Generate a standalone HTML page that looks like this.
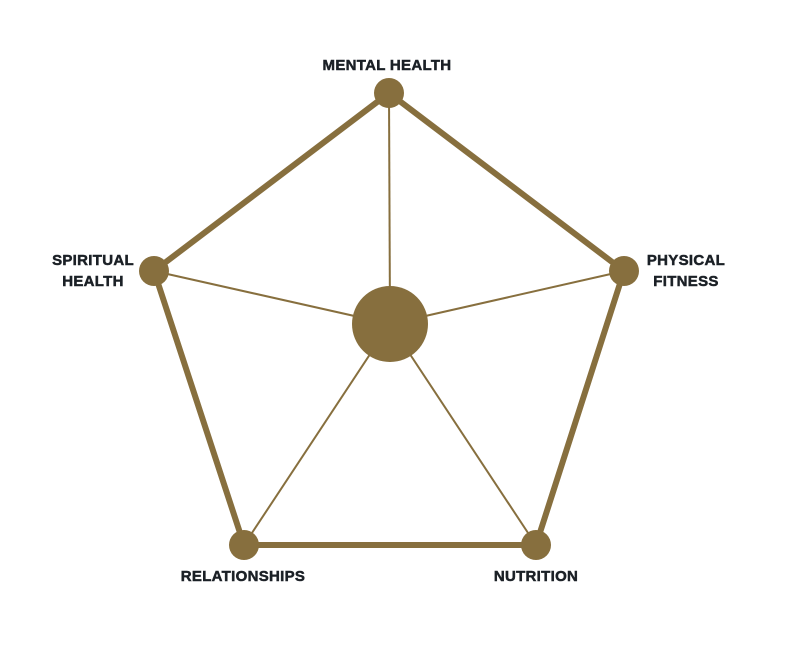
<!DOCTYPE html>
<html><head><style>
html,body{margin:0;padding:0;background:#fff;}
svg{display:block;}
text{font-family:"Liberation Sans",sans-serif;font-weight:bold;font-size:15px;letter-spacing:0.3px;fill:#1b2026;stroke:#1b2026;stroke-width:0.5px;}
</style></head><body>
<svg width="797" height="666" viewBox="0 0 797 666">
<g stroke="#876f3e" fill="none">
<g stroke-width="2">
<line x1="390" y1="324" x2="389" y2="93"/>
<line x1="390" y1="324" x2="154" y2="271"/>
<line x1="390" y1="324" x2="624" y2="271"/>
<line x1="390" y1="324" x2="244" y2="545"/>
<line x1="390" y1="324" x2="536" y2="545"/>
</g>
<polygon stroke-width="6" stroke-linejoin="round" points="389,93 624,271 536,545 244,545 154,271"/>
</g>
<g fill="#876f3e">
<circle cx="389" cy="93" r="15"/>
<circle cx="154" cy="271" r="15"/>
<circle cx="624" cy="271" r="15"/>
<circle cx="244" cy="545" r="15"/>
<circle cx="536" cy="545" r="15"/>
<circle cx="390" cy="324" r="38"/>
</g>
<text x="387" y="70" text-anchor="middle">MENTAL HEALTH</text>
<text x="93" y="265" text-anchor="middle">SPIRITUAL</text>
<text x="93" y="286" text-anchor="middle">HEALTH</text>
<text x="686" y="265" text-anchor="middle">PHYSICAL</text>
<text x="686" y="286" text-anchor="middle">FITNESS</text>
<text x="243" y="581" text-anchor="middle">RELATIONSHIPS</text>
<text x="536" y="581" text-anchor="middle">NUTRITION</text>
</svg>
</body></html>
